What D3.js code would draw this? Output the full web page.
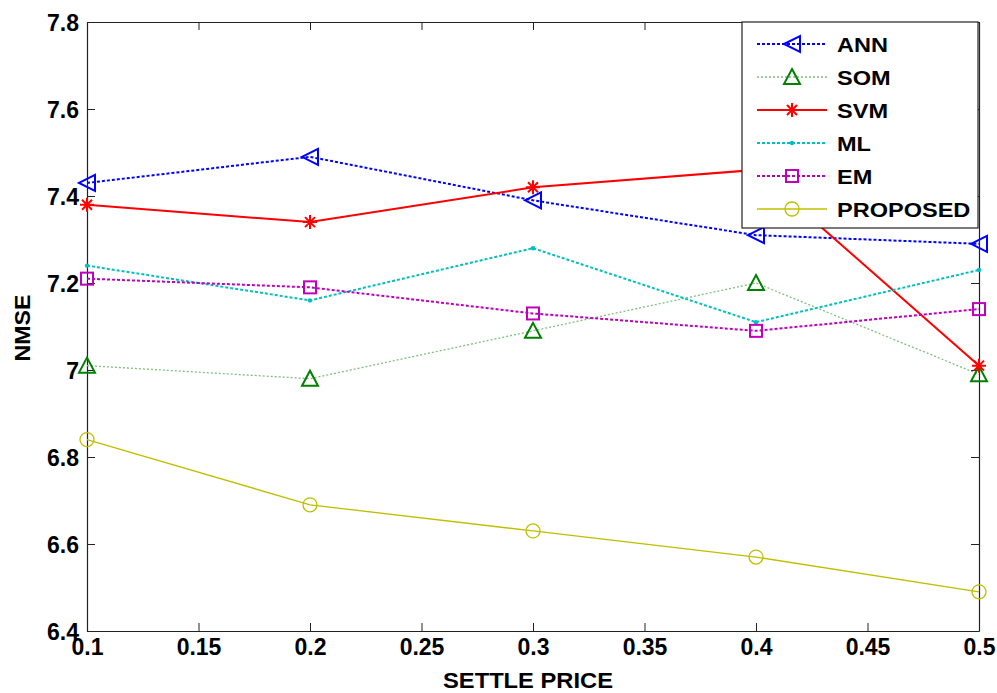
<!DOCTYPE html>
<html>
<head>
<meta charset="utf-8">
<script src="https://cdn.jsdelivr.net/npm/d3@7"></script>
<style>
  body { margin: 0; background: #fff; }
  text { font-family: "Liberation Sans", Arial, sans-serif; font-weight: bold; }
</style>
</head>
<body>
<div id="viz"></div>
<script>
// chart values
const settlePrice = [0.1, 0.2, 0.3, 0.4, 0.5];
const ann = [7.43, 7.49, 7.39, 7.31, 7.29];
const som = [7.01, 6.98, 7.09, 7.20, 6.99];
const svm = [7.38, 7.34, 7.42, 7.46, 7.01];
const ml = [7.24, 7.16, 7.28, 7.11, 7.23];
const em = [7.21, 7.19, 7.13, 7.09, 7.14];
const proposed = [6.84, 6.69, 6.63, 6.57, 6.49];
const xTicks = [0.1, 0.15, 0.2, 0.25, 0.3, 0.35, 0.4, 0.45, 0.5];
const yTicks = [6.4, 6.6, 6.8, 7, 7.2, 7.4, 7.6, 7.8];

const series = [
  { name: "ANN", values: ann, color: "#0000ff", lineColor: "#0000ff", width: 2, dash: "3,2", marker: "tri-left" },
  { name: "SOM", values: som, color: "#008000", lineColor: "#7fbf7f", width: 1.3, dash: "2,2", marker: "tri-up" },
  { name: "SVM", values: svm, color: "#ff0000", lineColor: "#ff0000", width: 2, dash: null, marker: "star" },
  { name: "ML", values: ml, color: "#00bfbf", lineColor: "#00bfbf", width: 2, dash: "3,2", marker: "dot" },
  { name: "EM", values: em, color: "#bf00bf", lineColor: "#bf00bf", width: 2, dash: "3,2", marker: "square" },
  { name: "PROPOSED", values: proposed, color: "#bfbf00", lineColor: "#bfbf00", width: 1.3, dash: null, marker: "circle" }
];

const margin = { top: 22, right: 18, bottom: 62, left: 87 },
  width = 997 - margin.left - margin.right,
  height = 693 - margin.top - margin.bottom;

const svg = d3.select("#viz")
  .append("svg")
  .attr("width", 997)
  .attr("height", 693);

const g = svg.append("g")
  .attr("transform", `translate(${margin.left},${margin.top})`);

const x = d3.scaleLinear().domain([0.1, 0.5]).range([0, width]);
const y = d3.scaleLinear().domain([6.4, 7.8]).range([height, 0]);

// axes with inward ticks
const fmtY = d => d === 7 ? "7" : d3.format(".1f")(d);
const fmtX = d => String(+d.toFixed(2));

const xAxis = g.append("g")
  .attr("transform", `translate(0,${height})`)
  .call(d3.axisBottom(x).tickValues(xTicks).tickSizeInner(-8).tickSizeOuter(0).tickPadding(12).tickFormat(fmtX));
const yAxis = g.append("g")
  .call(d3.axisLeft(y).tickValues(yTicks).tickSizeInner(-8).tickSizeOuter(0).tickPadding(8).tickFormat(fmtY));
const xTop = g.append("g")
  .call(d3.axisTop(x).tickValues(xTicks).tickSizeInner(-8).tickSizeOuter(0).tickFormat(""));
const yRight = g.append("g")
  .attr("transform", `translate(${width},0)`)
  .call(d3.axisRight(y).tickValues(yTicks).tickSizeInner(-8).tickSizeOuter(0).tickFormat(""));

[xAxis, yAxis, xTop, yRight].forEach(a => {
  a.selectAll("path").attr("stroke", "#222").attr("stroke-width", 1.2);
  a.selectAll("line").attr("stroke", "#222");
  a.selectAll("text").attr("fill", "#000").style("font-size", "23px");
});
xAxis.selectAll("text").attr("dy", "0.5em");
yAxis.selectAll("text").attr("dy", "0.35em");

// axis labels
svg.append("text")
  .attr("x", 528)
  .attr("y", 688)
  .attr("text-anchor", "middle")
  .attr("textLength", 170)
  .attr("lengthAdjust", "spacingAndGlyphs")
  .style("font-size", "22px")
  .text("SETTLE PRICE");

svg.append("text")
  .attr("transform", "translate(30,328) rotate(-90)")
  .attr("text-anchor", "middle")
  .attr("textLength", 67)
  .attr("lengthAdjust", "spacingAndGlyphs")
  .style("font-size", "22px")
  .text("NMSE");

function drawMarker(sel, type, color) {
  if (type === "tri-left") {
    sel.append("path").attr("d", "M-8,0 L8,-8 L8,8 Z")
      .attr("fill", "none").attr("stroke", color).attr("stroke-width", 2);
  } else if (type === "tri-up") {
    sel.append("path").attr("d", "M0,-8 L8,7 L-8,7 Z")
      .attr("fill", "none").attr("stroke", color).attr("stroke-width", 2);
  } else if (type === "star") {
    sel.append("path").attr("d", "M-7,0 L7,0 M0,-7 L0,7 M-5,-5 L5,5 M-5,5 L5,-5")
      .attr("fill", "none").attr("stroke", color).attr("stroke-width", 2);
  } else if (type === "dot") {
    sel.append("circle").attr("r", 2.2).attr("fill", color);
  } else if (type === "square") {
    sel.append("rect").attr("x", -6).attr("y", -6).attr("width", 12).attr("height", 12)
      .attr("fill", "none").attr("stroke", color).attr("stroke-width", 2);
  } else if (type === "circle") {
    sel.append("circle").attr("r", 7)
      .attr("fill", "none").attr("stroke", color).attr("stroke-width", 1.3);
  }
}

const line = d3.line()
  .x((d, i) => x(settlePrice[i]))
  .y(d => y(d));

series.forEach(s => {
  g.append("path")
    .datum(s.values)
    .attr("d", line)
    .attr("fill", "none")
    .attr("stroke", s.lineColor)
    .attr("stroke-width", s.width)
    .attr("stroke-dasharray", s.dash);

  g.selectAll("g.m-" + s.name)
    .data(s.values)
    .enter()
    .append("g")
    .attr("class", "m-" + s.name)
    .attr("transform", (d, i) => `translate(${x(settlePrice[i])},${y(d)})`)
    .each(function() { drawMarker(d3.select(this), s.marker, s.color); });
});

// legend
const lg = svg.append("g").attr("transform", "translate(742,22)");
lg.append("rect")
  .attr("width", 236).attr("height", 206)
  .attr("fill", "#fff").attr("stroke", "#222").attr("stroke-width", 1.2);

series.forEach((s, i) => {
  const row = lg.append("g").attr("transform", `translate(0,${22 + i * 33})`);
  row.append("line")
    .attr("x1", 15).attr("x2", 85)
    .attr("stroke", s.lineColor)
    .attr("stroke-width", s.width)
    .attr("stroke-dasharray", s.dash);
  drawMarker(row.append("g").attr("transform", "translate(50,0)"), s.marker, s.color);
  const t = row.append("text")
    .attr("x", 95)
    .attr("dy", "0.36em")
    .style("font-size", "21px")
    .text(s.name);
  t.attr("textLength", t.node().getComputedTextLength() * 1.12)
    .attr("lengthAdjust", "spacingAndGlyphs");
});
</script>
</body>
</html>
